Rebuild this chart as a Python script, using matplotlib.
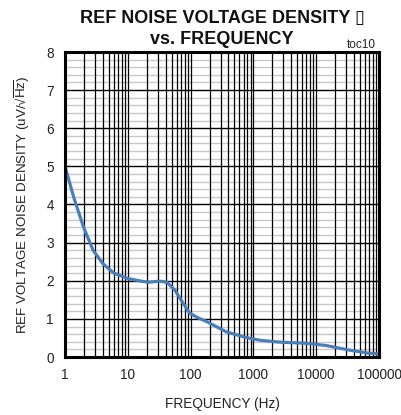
import matplotlib
matplotlib.use("Agg")
import matplotlib.pyplot as plt
from matplotlib.ticker import FixedLocator, NullFormatter

FONT = ['Liberation Sans Narrow', 'Liberation Sans', 'DejaVu Sans']
plt.rcParams['font.family'] = FONT
plt.rcParams['mathtext.fontset'] = 'custom'
plt.rcParams['mathtext.rm'] = 'Liberation Sans'

# data
freq = [1, 1.4, 2, 2.8, 4, 6, 10, 15, 21, 32, 42, 56, 76, 97, 130, 180,
        370, 770, 1260, 2600, 7000, 14500, 34000, 63000, 100000]
noise = [5.0, 4.15, 3.38, 2.8, 2.45, 2.2, 2.06, 2.0, 1.96, 1.99, 1.96, 1.76,
         1.41, 1.15, 1.03, 0.93, 0.66, 0.51, 0.44, 0.39, 0.36, 0.30, 0.18,
         0.11, 0.08]
x_ticks = [1, 10, 100, 1000, 10000, 100000]
x_tick_labels = ['1', '10', '100', '1000', '10000', '100000']
y_ticks = [0, 1, 2, 3, 4, 5, 6, 7, 8]

fig = plt.figure(figsize=(4.01, 4.15), dpi=100)
ax = fig.add_axes([65/401, 1-357/415, (379-65)/401, (357-52)/415])

ax.set_xscale('log')
ax.set_xlim(1, 100000)
ax.set_ylim(0, 8)

ax.yaxis.set_major_locator(FixedLocator(y_ticks))
ax.xaxis.set_major_locator(FixedLocator(x_ticks))
minor_x = [m * d for d in [1, 10, 100, 1000, 10000] for m in range(2, 10)]
ax.xaxis.set_minor_locator(FixedLocator(minor_x))
ax.xaxis.set_minor_formatter(NullFormatter())
ax.set_xticklabels(x_tick_labels)

# grid lines: gray minor horizontals under black verticals and black majors
for i in range(41):
    if i % 5:
        ax.axhline(i * 0.2, color='#c8c8c8', lw=1.0, zorder=0.5)
for xv in x_ticks[1:-1] + minor_x:
    ax.axvline(xv, color='#000000', lw=0.9, zorder=1)
for yv in y_ticks[1:-1]:
    ax.axhline(yv, color='#000000', lw=1.0, zorder=1.1)

ax.tick_params(which='both', length=0, pad=8, labelsize=9.8, colors='#222222')
for s in ax.spines.values():
    s.set_linewidth(2.2)
    s.set_color('black')
    s.set_zorder(4)

ax.plot(freq, noise, color='#4a7ebb', lw=2.3, zorder=3, solid_capstyle='round')

ax.set_xlabel('FREQUENCY (Hz)', fontsize=9.8, color='#222222', labelpad=11)
ax.set_ylabel(r'REF VOLTAGE NOISE DENSITY (uV/√$\overline{\mathrm{Hz}}$)', fontsize=9.6,
              color='#222222', labelpad=10)

cx = (65 + 379) / 2 / 401
fig.text(cx, 1 - 23/415, 'REF NOISE VOLTAGE DENSITY \u25AF', ha='center',
         va='baseline', fontsize=13, fontweight='bold', color='#111111')
fig.text(cx, 1 - 44/415, 'vs. FREQUENCY', ha='center', va='baseline',
         fontsize=13, fontweight='bold', color='#111111')
fig.text(376/401, 1 - 48/415, 'toc10', ha='right', va='baseline',
         fontsize=8.5, color='#222222')

fig.savefig('out.png', dpi=100)
